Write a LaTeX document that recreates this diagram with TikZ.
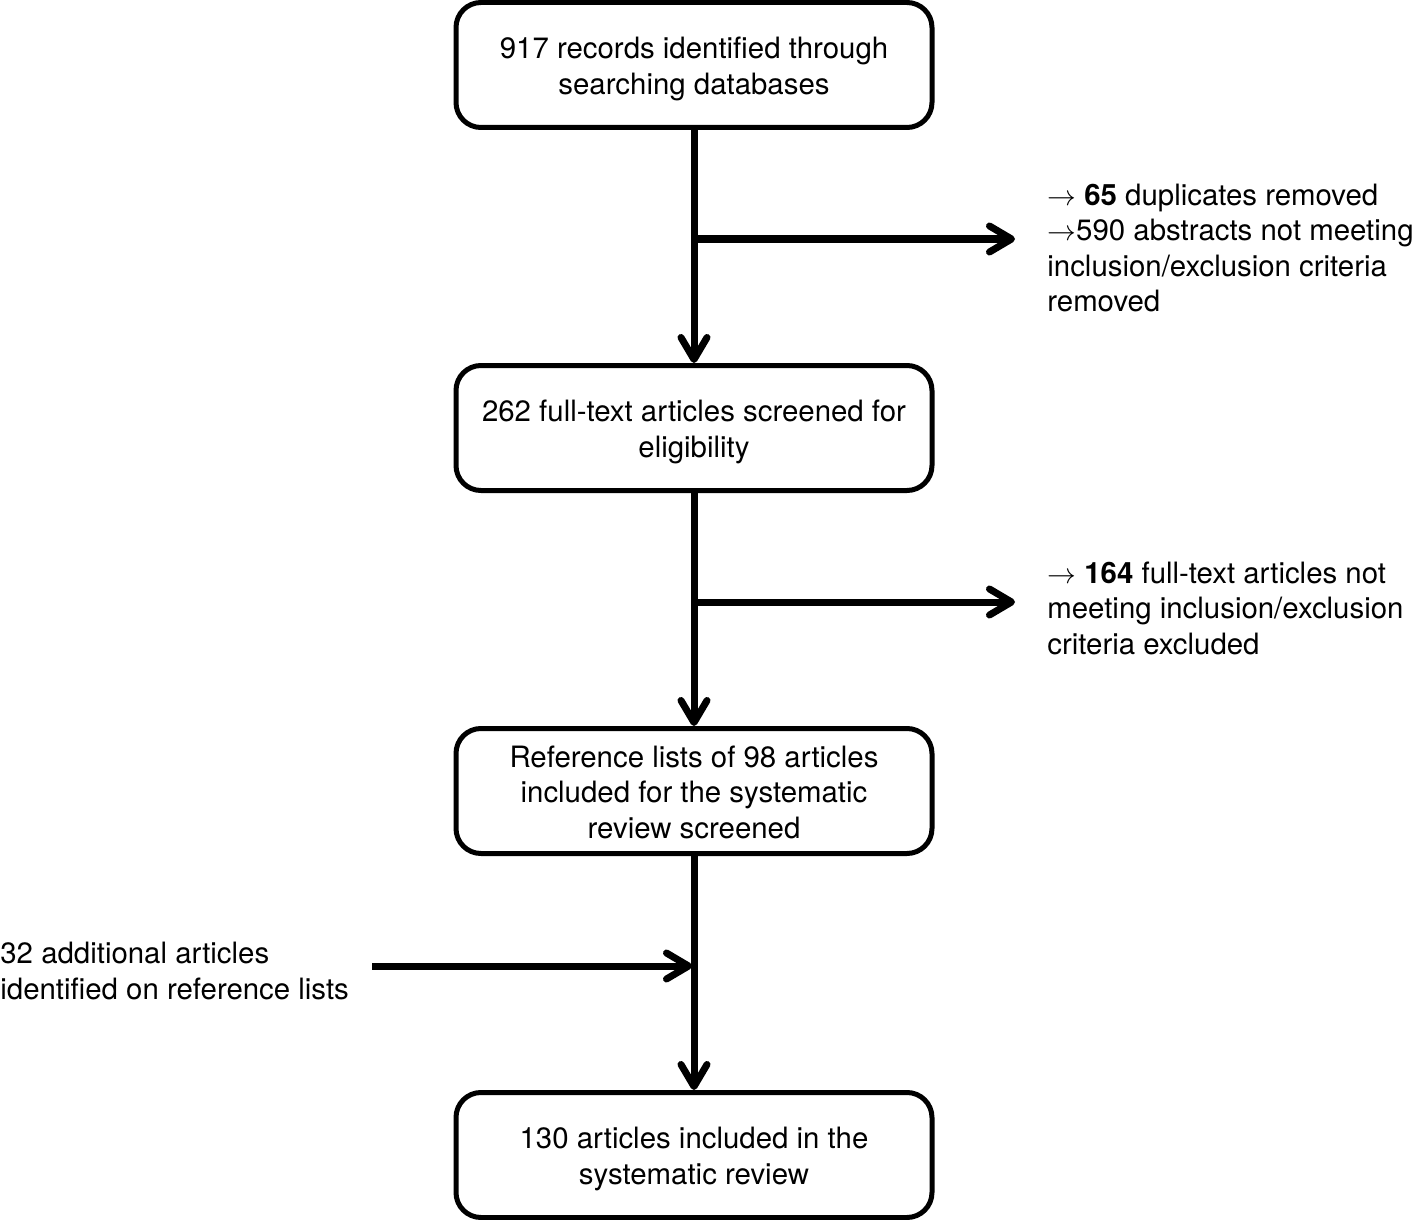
\documentclass[tikz,border=0pt]{standalone}
\usepackage{fontspec}
\setmainfont{TeX Gyre Heros}
\usetikzlibrary{arrows.meta}
\newcommand{\upstrut}[1]{\rule{0pt}{#1}}
\begin{document}
\begin{tikzpicture}[x=0.5pt,y=-0.5pt,
  txt/.style={font=\fontsize{14.7pt}{17.75pt}\selectfont, inner sep=0pt},
  stepbox/.style={txt, draw, line width=2.5pt, rounded corners=12.5pt,
    minimum width=238pt, minimum height=62.5pt, align=center},
  conn/.style={line width=3.5pt},
  tip/.style={-{Straight Barb[length=11pt,width=13pt,round]}}]
\useasboundingbox (0,0) rectangle (1415,1220);
\node[stepbox] (b1) at (694,65) {\upstrut{14.7pt}917 records identified through\\searching databases};
\node[stepbox] (b2) at (694,428) {\upstrut{14.7pt}262 full-text articles screened for\\eligibility};
\node[stepbox] (b3) at (694,791) {\upstrut{11.8pt}Reference lists of 98 articles\\included for the systematic\\review screened};
\node[stepbox] (b4) at (694,1155) {\upstrut{14.7pt}130 articles included in the\\systematic review};
\node[txt, anchor=west, align=left] (t1) at (1047,248)
  {$\rightarrow$ \textbf{65} duplicates removed\\$\rightarrow$590 abstracts not meeting\\inclusion/exclusion criteria\\removed};
\node[txt, anchor=west, align=left] (t2) at (1047,608)
  {$\rightarrow$ \textbf{164} full-text articles not\\meeting inclusion/exclusion\\criteria excluded};
\node[txt, anchor=west, align=left] (t3) at (0,971)
  {32 additional articles\\identified on reference lists};
\coordinate (j1) at (694,239);
\coordinate (e1) at (1015,239);
\coordinate (j2) at (694,602);
\coordinate (e2) at (1015,602);
\coordinate (s3) at (372,966);
\coordinate (j3) at (692,966);
\draw[conn,tip] (b1.south) -- (b2.north);
\draw[conn,tip] (b2.south) -- (b3.north);
\draw[conn,tip] (b3.south) -- (b4.north);
\draw[conn,tip] (j1) -- (e1);
\draw[conn,tip] (j2) -- (e2);
\draw[conn,tip] (s3) -- (j3);
\end{tikzpicture}
\end{document}
